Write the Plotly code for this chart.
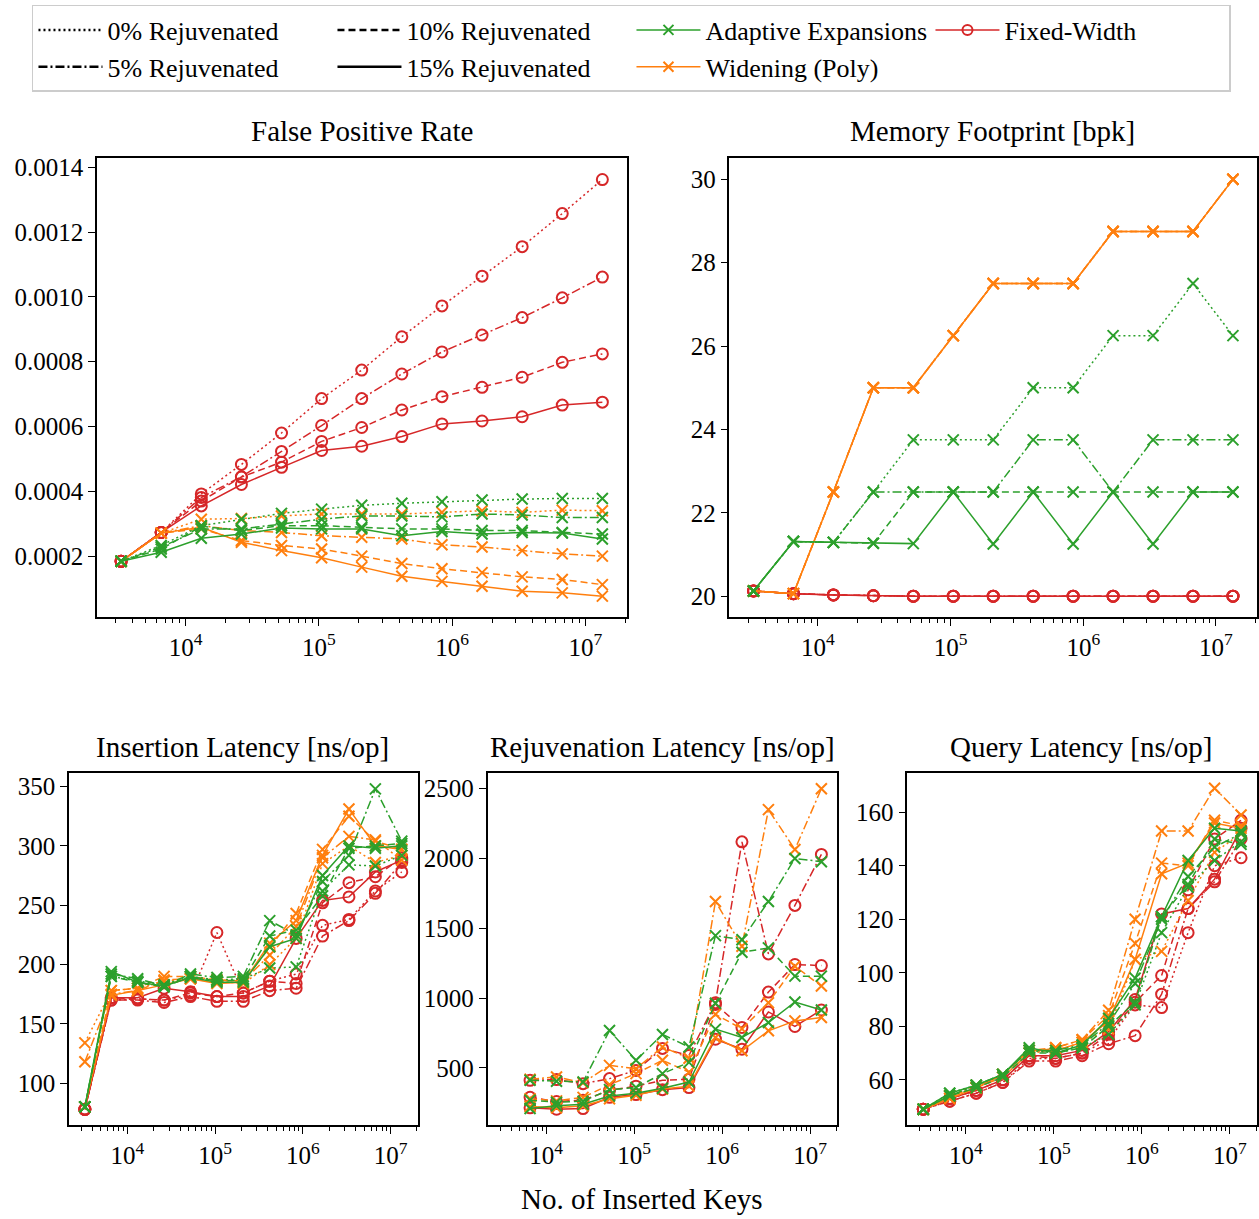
import plotly.graph_objects as go

# ---------------- data ----------------
KEYS = [3277, 6554, 13107, 26214, 52429, 104858, 209715, 419430, 838861,
        1677722, 3355443, 6710886, 13421773]
REJ_KEYS = KEYS[1:]
LEVELS = ["0%", "5%", "10%", "15%"]

# False positive rate
fpr_fixed = {
    "0%": [0.000184, 0.000273, 0.000392, 0.000483, 0.000580, 0.000686, 0.000774, 0.000877, 0.000972, 0.001064, 0.001155, 0.001257, 0.001362],
    "5%": [0.000184, 0.000273, 0.000381, 0.000445, 0.000523, 0.000603, 0.000686, 0.000762, 0.000830, 0.000882, 0.000936, 0.000997, 0.001061],
    "10%": [0.000184, 0.000273, 0.000370, 0.000444, 0.000490, 0.000554, 0.000597, 0.000651, 0.000692, 0.000721, 0.000752, 0.000798, 0.000824],
    "15%": [0.000184, 0.000273, 0.000355, 0.000421, 0.000474, 0.000526, 0.000539, 0.000569, 0.000608, 0.000617, 0.000630, 0.000666, 0.000675],
}
fpr_adaptive = {
    "0%": [0.000184, 0.000233, 0.000294, 0.000314, 0.000332, 0.000345, 0.000357, 0.000363, 0.000368, 0.000373, 0.000376, 0.000378, 0.000378],
    "5%": [0.000184, 0.000228, 0.000284, 0.000284, 0.000299, 0.000314, 0.000324, 0.000324, 0.000321, 0.000330, 0.000327, 0.000319, 0.000319],
    "10%": [0.000184, 0.000222, 0.000292, 0.000279, 0.000294, 0.000294, 0.000289, 0.000284, 0.000284, 0.000279, 0.000279, 0.000273, 0.000268],
    "15%": [0.000184, 0.000212, 0.000255, 0.000268, 0.000287, 0.000284, 0.000284, 0.000263, 0.000276, 0.000268, 0.000273, 0.000271, 0.000253],
}
fpr_poly = {
    "0%": [0.000184, 0.000271, 0.000314, 0.000316, 0.000324, 0.000330, 0.000330, 0.000330, 0.000335, 0.000340, 0.000335, 0.000342, 0.000340],
    "5%": [0.000184, 0.000271, 0.000294, 0.000279, 0.000273, 0.000263, 0.000258, 0.000253, 0.000235, 0.000228, 0.000217, 0.000207, 0.000200],
    "10%": [0.000184, 0.000271, 0.000284, 0.000248, 0.000233, 0.000222, 0.000200, 0.000177, 0.000161, 0.000149, 0.000136, 0.000128, 0.000112],
    "15%": [0.000184, 0.000271, 0.000289, 0.000243, 0.000217, 0.000195, 0.000166, 0.000138, 0.000122, 0.000107, 0.0000918, 0.0000867, 0.0000765],
}

# Memory footprint [bpk]
mem_fixed_row = [20.125, 20.06, 20.03, 20.01, 20.0, 20.0, 20.0, 20.0, 20.0, 20.0, 20.0, 20.0, 20.0]
mem_poly_row = [20.125, 20.06, 22.5, 25.0, 25.0, 26.25, 27.5, 27.5, 27.5, 28.75, 28.75, 28.75, 30.0]
mem_fixed = {"0%": mem_fixed_row, "5%": mem_fixed_row, "10%": mem_fixed_row, "15%": mem_fixed_row}
mem_poly = {"0%": mem_poly_row, "5%": mem_poly_row, "10%": mem_poly_row, "15%": mem_poly_row}
mem_adaptive = {
    "0%": [20.125, 21.31, 21.29, 22.5, 23.75, 23.75, 23.75, 25.0, 25.0, 26.25, 26.25, 27.5, 26.25],
    "5%": [20.125, 21.31, 21.29, 22.5, 22.5, 22.5, 22.5, 23.75, 23.75, 22.5, 23.75, 23.75, 23.75],
    "10%": [20.125, 21.31, 21.29, 21.27, 22.5, 22.5, 22.5, 22.5, 22.5, 22.5, 22.5, 22.5, 22.5],
    "15%": [20.125, 21.31, 21.29, 21.27, 21.26, 22.5, 21.25, 22.5, 21.25, 22.5, 21.25, 22.5, 22.5],
}

# Insertion latency [ns/op]
ins_fixed = {
    "0%": [78, 170, 171, 170, 174, 227, 176, 186, 192, 233, 238, 262, 278],
    "5%": [78, 170, 170, 168, 173, 169, 169, 178, 180, 224, 237, 260, 286],
    "10%": [78, 172, 171, 170, 176, 173, 176, 186, 184, 252, 269, 274, 290],
    "15%": [78, 172, 172, 180, 177, 173, 173, 182, 222, 254, 257, 278, 288],
}
ins_adaptive = {
    "0%": [80, 190, 186, 183, 190, 187, 188, 197, 198, 262, 284, 283, 292],
    "5%": [80, 192, 188, 182, 192, 189, 190, 237, 225, 270, 292, 348, 304],
    "10%": [80, 190, 185, 181, 190, 186, 187, 224, 229, 258, 298, 300, 302],
    "15%": [80, 194, 185, 182, 189, 185, 185, 215, 222, 275, 300, 298, 300],
}
ins_poly = {
    "0%": [134, 178, 180, 186, 188, 186, 184, 200, 222, 285, 300, 286, 292],
    "5%": [118, 175, 178, 187, 188, 187, 186, 208, 232, 290, 308, 305, 288],
    "10%": [80, 178, 180, 190, 190, 187, 186, 215, 243, 297, 325, 304, 297],
    "15%": [80, 174, 178, 183, 188, 184, 185, 218, 237, 292, 331, 300, 297],
}

# Rejuvenation latency [ns/op] (no 0% series)
rej_fixed = {
    "5%": [412, 417, 388, 424, 483, 640, 590, 967, 2118, 1316, 1663, 2028],
    "10%": [290, 260, 270, 340, 370, 412, 420, 955, 790, 1043, 1240, 1233],
    "15%": [215, 205, 210, 290, 310, 345, 360, 706, 635, 901, 797, 915],
}
rej_adaptive = {
    "5%": [412, 405, 400, 768, 555, 740, 650, 1447, 1418, 1691, 1999, 1976],
    "10%": [270, 255, 262, 345, 360, 460, 540, 963, 1328, 1359, 1157, 1157],
    "15%": [210, 230, 240, 300, 320, 355, 400, 778, 718, 825, 972, 915],
}
rej_poly = {
    "5%": [420, 436, 395, 519, 495, 650, 570, 1691, 1371, 2348, 2063, 2498],
    "10%": [280, 265, 290, 380, 460, 555, 470, 884, 780, 967, 1228, 1086],
    "15%": [225, 215, 230, 280, 305, 350, 370, 718, 623, 766, 837, 861],
}

# Query latency [ns/op]
qry_fixed = {
    "0%": [49, 52, 55, 59, 68, 68, 70, 75, 88, 87, 115, 140, 143],
    "5%": [49, 52, 55, 59, 67, 67, 69, 73.5, 76.5, 92, 124, 134, 150],
    "10%": [49, 53, 56, 60, 69, 68, 70, 77, 89, 99, 131, 150, 157],
    "15%": [49, 53, 56, 60, 69, 69, 71, 78, 90, 122, 124, 135, 154],
}
qry_adaptive = {
    "0%": [49, 55, 58, 62, 71, 70, 72, 77, 88, 115, 132, 142, 149],
    "5%": [49, 54, 58, 62, 71, 71, 73, 81, 96, 120, 136, 147, 152],
    "10%": [49, 54, 57, 61, 70, 70, 72, 80, 89, 121, 133, 150, 148],
    "15%": [49, 55, 58, 62, 72, 70, 73, 83, 98, 121, 142, 154, 153],
}
qry_poly = {
    "0%": [49, 54, 58, 61, 70, 71, 74, 79, 105, 108, 127, 145, 152],
    "5%": [49, 54, 57, 61, 70, 72, 75, 86, 120, 153, 153, 169, 159],
    "10%": [49, 53, 57, 62, 71, 72, 75, 84, 111, 141, 140, 157, 155],
    "15%": [49, 53, 57, 62, 71, 71, 74, 82, 105, 137, 141, 156, 154],
}

TITLES = ["False Positive Rate", "Memory Footprint [bpk]", "Insertion Latency [ns/op]",
          "Rejuvenation Latency [ns/op]", "Query Latency [ns/op]"]
XLABEL = "No. of Inserted Keys"

# ---------------- style ----------------
FONT = "Liberation Serif"
RED, ORANGE, GREEN = "#d62728", "#ff7f0e", "#2ca02c"
DASH = {"0%": "2px,3px", "5%": "9px,3px,2px,3px", "10%": "7px,4px", "15%": "solid"}
METHODS = [
    ("fixed", "Fixed-Width", RED, "circle-open"),
    ("poly", "Widening (Poly)", ORANGE, "x-thin-open"),
    ("adaptive", "Adaptive Expansions", GREEN, "x-thin-open"),
]

panels = [
    (1, KEYS, {"fixed": fpr_fixed, "poly": fpr_poly, "adaptive": fpr_adaptive}),
    (2, KEYS, {"fixed": mem_fixed, "poly": mem_poly, "adaptive": mem_adaptive}),
    (3, KEYS, {"fixed": ins_fixed, "poly": ins_poly, "adaptive": ins_adaptive}),
    (4, REJ_KEYS, {"fixed": rej_fixed, "poly": rej_poly, "adaptive": rej_adaptive}),
    (5, KEYS, {"fixed": qry_fixed, "poly": qry_poly, "adaptive": qry_adaptive}),
]

fig = go.Figure()

for idx, xs, data in panels:
    xa = "x" if idx == 1 else f"x{idx}"
    ya = "y" if idx == 1 else f"y{idx}"
    for key, name, color, symbol in METHODS:
        series = data[key]
        for lvl in LEVELS:
            if lvl not in series:
                continue
            fig.add_trace(go.Scatter(
                x=xs, y=series[lvl], xaxis=xa, yaxis=ya, mode="lines+markers",
                line=dict(color=color, width=1.5, dash=DASH[lvl]),
                marker=dict(symbol=symbol, size=11, color=color,
                            line=dict(color=color, width=2)),
                showlegend=False, hoverinfo="skip"))

# legend-only entries
legend_entries = [
    ("0% Rejuvenated", "black", DASH["0%"], None),
    ("10% Rejuvenated", "black", DASH["10%"], None),
    ("Adaptive Expansions", GREEN, "solid", "x-thin-open"),
    ("Fixed-Width", RED, "solid", "circle-open"),
    ("5% Rejuvenated", "black", DASH["5%"], None),
    ("15% Rejuvenated", "black", DASH["15%"], None),
    ("Widening (Poly)", ORANGE, "solid", "x-thin-open"),
]
for rank, (name, color, dash, symbol) in enumerate(legend_entries):
    if symbol is None:
        fig.add_trace(go.Scatter(x=[None], y=[None], mode="lines", name=name,
                                 line=dict(color=color, width=2.5, dash=dash),
                                 legendrank=rank + 1))
    else:
        fig.add_trace(go.Scatter(x=[None], y=[None], mode="lines+markers", name=name,
                                 line=dict(color=color, width=1.5, dash=dash),
                                 marker=dict(symbol=symbol, size=10, color=color,
                                             line=dict(color=color, width=2)),
                                 legendrank=rank + 1))

W, H = 1259, 1219
def px_x(a, b):
    return [a / W, b / W]
def px_y(top, bottom):
    return [(H - bottom) / H, (H - top) / H]

domains = {
    1: (px_x(97, 627), px_y(155, 615)),
    2: (px_x(730, 1258), px_y(155, 615)),
    3: (px_x(69, 418), px_y(772, 1125)),
    4: (px_x(488, 838), px_y(772, 1125)),
    5: (px_x(908, 1258), px_y(772, 1125)),
}
yranges = {1: [0.0000122, 0.001427], 2: [19.5, 30.5], 3: [64.5, 361], 4: [90, 2607], 5: [43, 174.5]}
yticks = {
    1: ([0.0002, 0.0004, 0.0006, 0.0008, 0.0010, 0.0012, 0.0014],
        ["0.0002", "0.0004", "0.0006", "0.0008", "0.0010", "0.0012", "0.0014"]),
    2: ([20, 22, 24, 26, 28, 30], None),
    3: ([100, 150, 200, 250, 300, 350], None),
    4: ([500, 1000, 1500, 2000, 2500], None),
    5: ([60, 80, 100, 120, 140, 160], None),
}
major = [1e4, 1e5, 1e6, 1e7]
major_txt = ["10<sup>4</sup>", "10<sup>5</sup>", "10<sup>6</sup>", "10<sup>7</sup>"]
minor_vals = [m * 10 ** e for e in range(3, 8) for m in range(2, 10)]

tickfont = dict(family=FONT, size=25, color="black")
layout = dict(width=W, height=H, margin=dict(l=0, r=0, t=0, b=0),
              paper_bgcolor="white", plot_bgcolor="white",
              font=dict(family=FONT, color="black"))
for idx in range(1, 6):
    xk = "xaxis" if idx == 1 else f"xaxis{idx}"
    yk = "yaxis" if idx == 1 else f"yaxis{idx}"
    ya = "y" if idx == 1 else f"y{idx}"
    xa = "x" if idx == 1 else f"x{idx}"
    dx, dy = domains[idx]
    layout[xk] = dict(domain=dx, anchor=ya, type="log", range=[3.334, 7.309],
                      showline=True, linecolor="black", linewidth=1.5, mirror=True,
                      showgrid=False, zeroline=False, ticks="outside", ticklen=7,
                      tickwidth=1.3, tickcolor="black", tickvals=major, ticktext=major_txt,
                      tickfont=tickfont,
                      minor=dict(tickvals=minor_vals, ticks="outside", ticklen=4,
                                 tickwidth=1, tickcolor="black", showgrid=False))
    tv, tt = yticks[idx]
    yd = dict(domain=dy, anchor=xa, range=yranges[idx],
              showline=True, linecolor="black", linewidth=1.5, mirror=True,
              showgrid=False, zeroline=False, ticks="outside", ticklen=7,
              tickwidth=1.3, tickcolor="black", tickvals=tv, tickfont=tickfont)
    if tt is not None:
        yd["ticktext"] = tt
    layout[yk] = yd

layout["legend"] = dict(orientation="h", x=32 / W, y=1 - 1 / H, xanchor="left", yanchor="top",
                        bordercolor="#cccccc", borderwidth=1.5, bgcolor="white",
                        font=dict(family=FONT, size=26, color="black"),
                        entrywidth=220, entrywidthmode="pixels", itemwidth=64,
                        traceorder="normal")

title_pos = [(362, 127), (993, 127), (243, 745), (663, 745), (1082, 745)]
ann = []
for t, (cx, cy) in zip(TITLES, title_pos):
    ann.append(dict(text=t, x=cx / W, y=1 - cy / H, xref="paper", yref="paper",
                    xanchor="center", yanchor="middle", showarrow=False,
                    font=dict(family=FONT, size=29, color="black")))
ann.append(dict(text=XLABEL, x=643 / W, y=1 - 1199 / H, xref="paper", yref="paper",
                xanchor="center", yanchor="middle", showarrow=False,
                font=dict(family=FONT, size=29, color="black")))
layout["annotations"] = ann

fig.update_layout(**layout)
fig.write_html("out.html", config={"displayModeBar": False},
               post_script="document.body.style.margin='0px';document.body.style.overflow='hidden';")
